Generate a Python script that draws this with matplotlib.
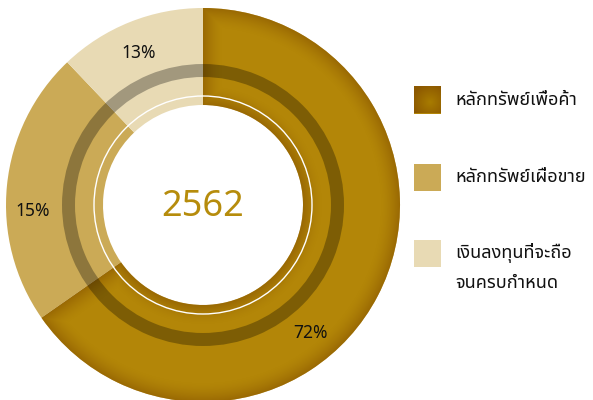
import matplotlib
matplotlib.use('Agg')
import numpy as np
import matplotlib.pyplot as plt
from matplotlib.patches import Wedge, Circle, Rectangle

# data
categories = ['หลักทรัพย์เพื่อค้า', 'หลักทรัพย์เผื่อขาย', 'เงินลงทุนที่จะถือ\nจนครบกำหนด']
pct_labels = ['72%', '15%', '13%']
shares = [65.3, 22.6, 12.1]   # angular share as drawn in the picture
year = '2562'

colors = ['#B38608', '#CBAA56', '#E8DAB4']
gold_text = '#B68C0C'
plt.rcParams['font.family'] = ['Noto Sans Thai', 'DejaVu Sans']

fig = plt.figure(figsize=(5.93, 4.0), dpi=100)
ax = fig.add_axes([0, 0, 1, 1])

cx, cy = 203, 195
r_out, r_in = 197, 100

wedges, _ = ax.pie(shares, colors=colors, startangle=90, counterclock=False,
                   center=(cx, cy), radius=r_out,
                   wedgeprops=dict(width=r_out - r_in, linewidth=0))

# bevel shading on the big wedge
w0 = wedges[0]
yy, xx = np.mgrid[0:400, 0:593] + 0.5
dx, dy = xx - cx, yy - cy
rr = np.hypot(dx, dy)
ang = np.degrees(np.arctan2(dy, dx))
d_edges = [r_out - rr, rr - r_in]
for th in (w0.theta1, w0.theta2):
    diff = np.radians((ang - th + 180) % 360 - 180)
    dist = np.abs(rr * np.sin(diff))
    dist[np.cos(diff) < 0] = 999
    d_edges.append(dist)
d = np.min(d_edges, axis=0)
alpha = np.clip(1 - d / 20, 0, 1) ** 1.6 * 0.6
img = np.zeros((400, 593, 4))
img[..., 0] = 0x88 / 255
img[..., 1] = 0x55 / 255
img[..., 3] = alpha
im = ax.imshow(img, extent=(0, 593, 0, 400), origin='lower', zorder=2, interpolation='bilinear')
im.set_clip_path(w0)

# dark translucent band and thin white ring
ax.add_patch(Wedge((cx, cy), 141, 0, 360, width=13, facecolor='black', alpha=0.3,
                   linewidth=0, zorder=3))
ax.add_patch(Circle((cx, cy), 109, fill=False, edgecolor='white', linewidth=1.0, zorder=3))

# percentage labels
label_pos = [(-50, 167), (182, 170), (113, 165)]
for (a, r), txt in zip(label_pos, pct_labels):
    ax.text(cx + r * np.cos(np.radians(a)), cy + r * np.sin(np.radians(a)), txt,
            ha='center', va='center', fontsize=12.5, fontweight='medium', color='#111111', zorder=4)

ax.text(cx, cy - 2, year, ha='center', va='center', fontsize=26, color=gold_text, zorder=4)

# legend
sq_y = [300, 223, 147]
for y0, c, name in zip(sq_y, colors, categories):
    ax.add_patch(Rectangle((414, y0 - 13.5), 27, 27, facecolor=c, linewidth=0, zorder=4))
    for k, ln in enumerate(name.split('\n')):
        ax.text(455, y0 - 30 * k, ln, ha='left', va='center', fontsize=13,
                fontweight='medium', color='#111111', zorder=4)

# gradient on first legend square
gx, gy = np.meshgrid(np.linspace(-1, 1, 40), np.linspace(-1, 1, 40))
g = np.clip(np.hypot(gx - 0.2, gy + 0.2) / 1.4, 0, 1)
sq = np.zeros((40, 40, 4))
sq[..., 0] = (0xA8 * (1 - g) + 0x8C * g) / 255
sq[..., 1] = (0x7C * (1 - g) + 0x58 * g) / 255
sq[..., 3] = 1.0
ax.imshow(sq, extent=(414, 441, 286.5, 313.5), origin='lower', zorder=5)

ax.set_xlim(0, 593)
ax.set_ylim(0, 400)
ax.set_aspect('equal')
ax.axis('off')

fig.savefig('out.png', dpi=100)
